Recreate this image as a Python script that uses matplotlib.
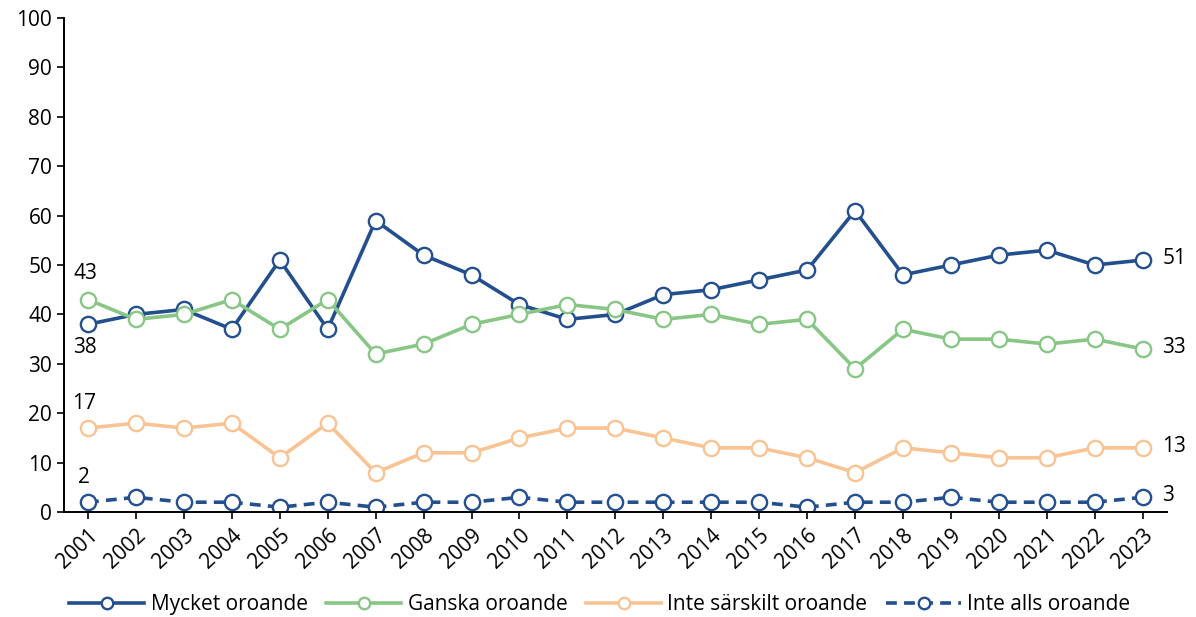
import matplotlib.pyplot as plt
import numpy as np

plt.rcParams['font.family'] = ['Open Sans', 'DejaVu Sans']

years = [str(y) for y in range(2001, 2024)]
mycket = [38, 40, 41, 37, 51, 37, 59, 52, 48, 42, 39, 40, 44, 45, 47, 49, 61, 48, 50, 52, 53, 50, 51]
ganska = [43, 39, 40, 43, 37, 43, 32, 34, 38, 40, 42, 41, 39, 40, 38, 39, 29, 37, 35, 35, 34, 35, 33]
inte_sarskilt = [17, 18, 17, 18, 11, 18, 8, 12, 12, 15, 17, 17, 15, 13, 13, 11, 8, 13, 12, 11, 11, 13, 13]
inte_alls = [2, 3, 2, 2, 1, 2, 1, 2, 2, 3, 2, 2, 2, 2, 2, 1, 2, 2, 3, 2, 2, 2, 3]

blue = '#234f8e'
green = '#88c685'
orange = '#f9c393'

series = [
    ("Mycket oroande", mycket, blue, '-'),
    ("Ganska oroande", ganska, green, '-'),
    ("Inte särskilt oroande", inte_sarskilt, orange, '-'),
    ("Inte alls oroande", inte_alls, blue, '--'),
]

FS = 15

fig = plt.figure(figsize=(11.96, 6.17), dpi=100)
ax = fig.add_axes([0.0535, 0.170, 0.922, 0.801])

x = np.arange(len(years))
for name, vals, col, ls in series:
    ax.plot(x, vals, linestyle=ls, color=col, linewidth=2.6, marker='o',
            markersize=11, markerfacecolor='white', markeredgecolor=col,
            markeredgewidth=1.7, label=name, dashes=(3, 2) if ls == '--' else (None, None))

# first-year labels
ax.annotate(str(ganska[0]), (x[0], ganska[0]), xytext=(-2, 11), textcoords='offset points',
            ha='center', va='bottom', fontsize=FS)
ax.annotate(str(mycket[0]), (x[0], mycket[0]), xytext=(-2, -9), textcoords='offset points',
            ha='center', va='top', fontsize=FS)
ax.annotate(str(inte_sarskilt[0]), (x[0], inte_sarskilt[0]), xytext=(-3, 10), textcoords='offset points',
            ha='center', va='bottom', fontsize=FS)
ax.annotate(str(inte_alls[0]), (x[0], inte_alls[0]), xytext=(-3, 10), textcoords='offset points',
            ha='center', va='bottom', fontsize=FS)

# last-year labels
for name, vals, col, ls in series:
    ax.annotate(str(vals[-1]), (x[-1], vals[-1]), xytext=(14, 1), textcoords='offset points',
                ha='left', va='center', fontsize=FS)

ax.set_xlim(-0.5, len(years) - 0.5)
ax.set_ylim(0, 100)
ax.set_yticks(range(0, 101, 10))
ax.set_xticks(x)
ax.set_xticklabels(years, rotation=43, ha='right', rotation_mode='anchor')
ax.tick_params(axis='both', labelsize=FS, direction='out', length=5, width=1.2)
ax.tick_params(axis='x', pad=4)
for side in ['top', 'right']:
    ax.spines[side].set_visible(False)
for side in ['left', 'bottom']:
    ax.spines[side].set_linewidth(1.4)

ax.legend(loc='upper center', bbox_to_anchor=(0.486, -0.128), ncol=4, frameon=False,
          fontsize=FS, handlelength=3.6, columnspacing=0.9, handletextpad=0.3, markerscale=0.75)

fig.savefig('out.png', dpi=100)
